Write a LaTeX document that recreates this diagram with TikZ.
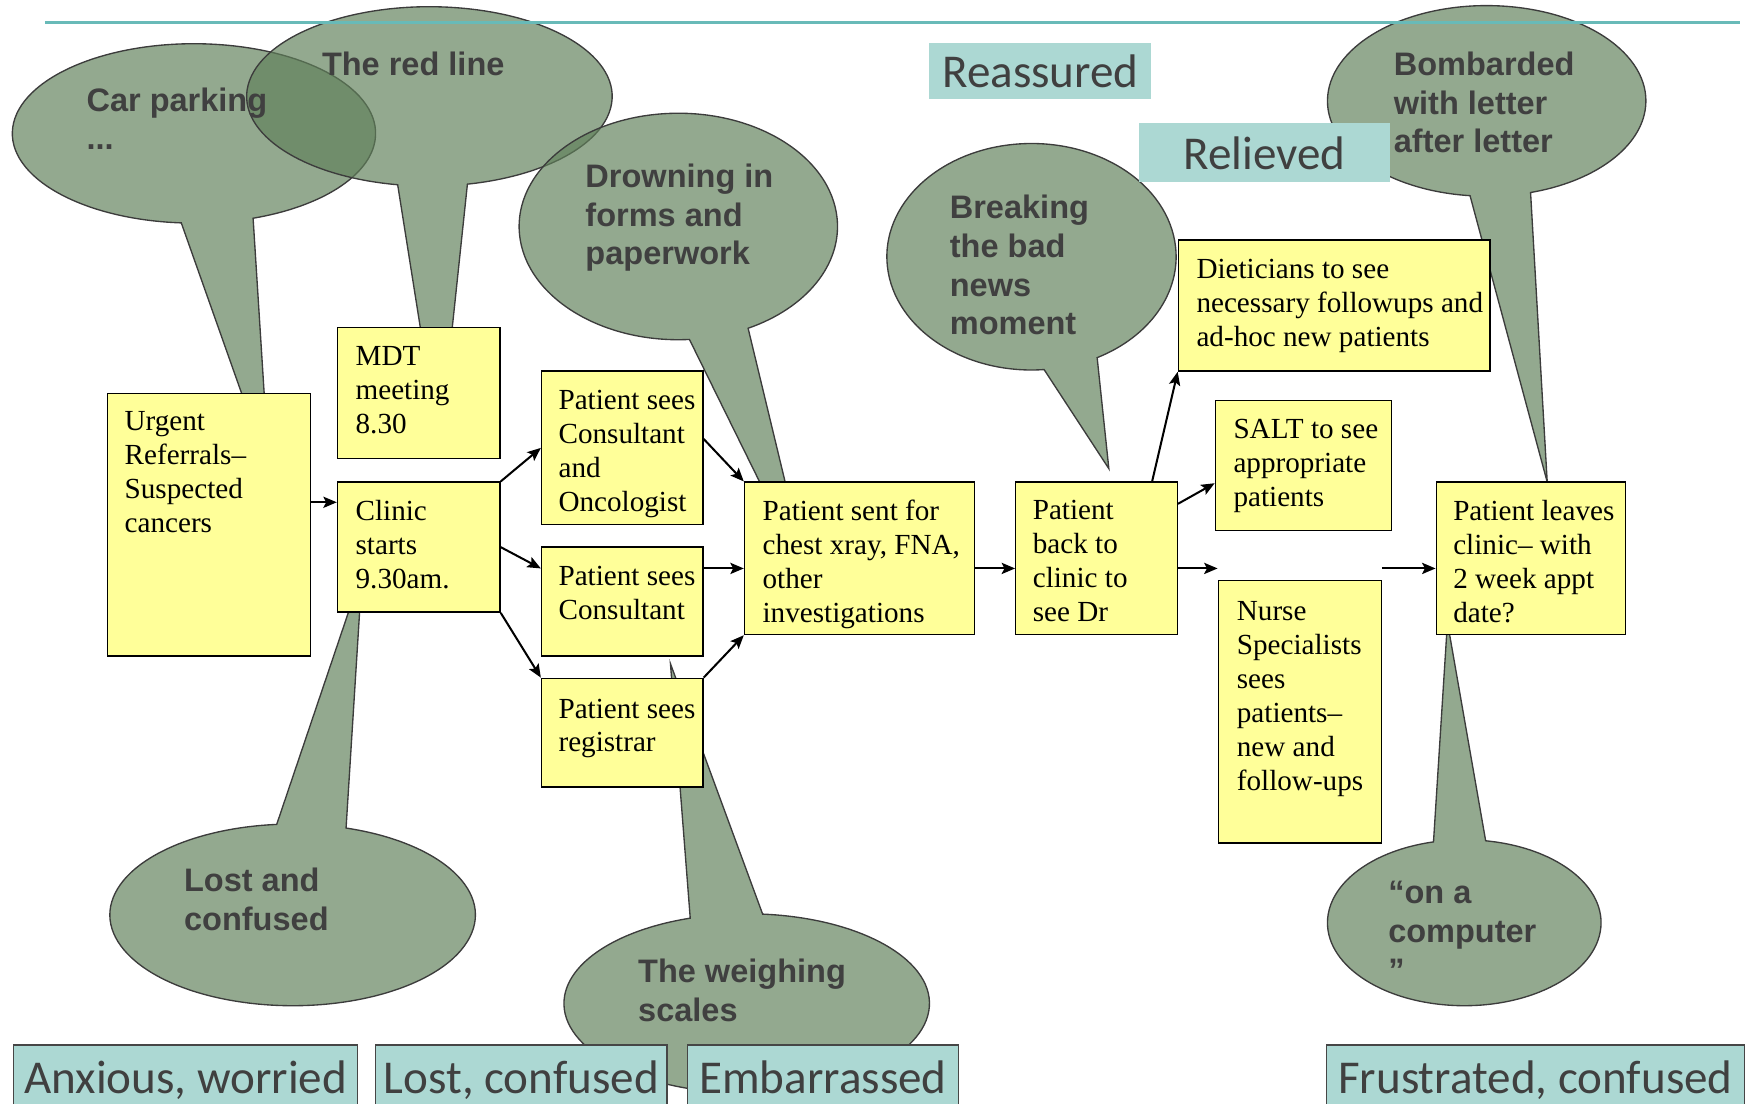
\documentclass[tikz,border=0pt]{standalone}
\usepackage{fontspec}
\setmainfont{Liberation Serif}
\newfontfamily\callfont{Liberation Sans}
\newfontfamily\moodfont{Carlito}
\usetikzlibrary{arrows.meta,calc}

\definecolor{boxyellow}{RGB}{255,255,153}
\definecolor{bubblegreen}{RGB}{96,128,90}
\definecolor{bubbleedge}{RGB}{60,60,60}
\definecolor{moodteal}{RGB}{172,216,211}
\definecolor{moodedge}{RGB}{70,70,70}
\definecolor{ruleteal}{RGB}{104,186,184}
\definecolor{inkgray}{RGB}{64,64,64}

\tikzset{
  stagebox/.style={draw=black, line width=1.2pt, fill=boxyellow, inner sep=0pt},
  stagetext/.style={font=\fontsize{26}{30.3}\selectfont, align=left, anchor=north west, inner sep=0pt},
  bubble/.style={fill=bubblegreen, fill opacity=0.68, draw=bubbleedge, line width=1.2pt},
  bubbletext/.style={font=\callfont\bfseries\fontsize{29}{34.5}\selectfont, text=inkgray, align=left, anchor=north west, inner sep=0pt},
  flow/.style={-{Stealth[length=12pt,width=10pt,inset=2.5pt]}, line width=1.8pt},
  mood/.style={fill=moodteal, font=\moodfont\fontsize{42}{48}\selectfont, text=inkgray, inner sep=0pt, text height=34pt, text depth=4pt},
  moodframed/.style={mood, draw=moodedge, line width=1.3pt},
}

% speech bubble: centre x, centre y, x radius, y radius, tail start angle, tail end angle, tip x, tip y
\newcommand\speechbubble[8]{%
  \filldraw[bubble] (#7,#8) -- ($(#1,#2)+(#6:#3 and #4)$)
    arc[start angle=#6, end angle={#5+360}, x radius=#3, y radius=#4] -- cycle;}

\begin{document}
\begin{tikzpicture}[x=1pt,y=-1pt]
\useasboundingbox (0,0) rectangle (1568,984);
\clip (0,0) rectangle (1568,984);

% feelings along the journey
\speechbubble{173}{119}{162}{80}{71}{94}{240}{420}
\speechbubble{383}{86}{163}{80}{78}{100}{392}{400}
\speechbubble{605}{202}{142}{101}{64}{86}{722}{520}
\speechbubble{920}{229}{129}{101}{63}{85}{989}{418}
\speechbubble{1326}{90}{142}{85}{74}{96}{1380}{430}
\speechbubble{261}{816}{163}{81}{265}{287}{323}{510}
\speechbubble{666}{895}{163}{80}{252}{275}{598}{592}
\speechbubble{1306}{823}{122}{74}{257}{279}{1291}{555}

\node[bubbletext] (carpark) at (77,78) {Car parking\\...};
\node[bubbletext] (redline) at (287,46) {The red line};
\node[bubbletext] (forms) at (522,146) {Drowning in\\forms and\\paperwork};
\node[bubbletext] (badnews) at (847,174) {Breaking\\the bad\\news\\moment};
\node[bubbletext] (letters) at (1243,46) {Bombarded\\with letter\\after letter};
\node[bubbletext] (lost) at (164,774) {Lost and\\confused};
\node[bubbletext] (scales) at (569,855) {The weighing\\scales};
\node[bubbletext] (computer) at (1238,786) {“on a\\computer\\”};

% top rule
\draw[ruleteal, line width=2.5pt] (40,20) -- (1552,20);

% clinic pathway
\node[stagebox, minimum width=181pt, minimum height=234pt] (urgent) at (186.5,468) {};
\node[stagebox, minimum width=145pt, minimum height=117pt] (mdt) at (373.5,350.5) {};
\node[stagebox, minimum width=145pt, minimum height=116pt] (clinic) at (373.5,488) {};
\node[stagebox, minimum width=144pt, minimum height=137pt] (onco) at (555,399.5) {};
\node[stagebox, minimum width=144pt, minimum height=97pt] (consult) at (555,536.5) {};
\node[stagebox, minimum width=144pt, minimum height=97pt] (registrar) at (555,653.5) {};
\node[stagebox, minimum width=205pt, minimum height=136pt] (tests) at (766.5,498) {};
\node[stagebox, minimum width=144pt, minimum height=136pt] (back) at (978,498) {};
\node[stagebox, minimum width=278pt, minimum height=117pt] (diet) at (1190,272.5) {};
\node[stagebox, minimum width=157pt, minimum height=116pt] (salt) at (1162.5,415) {};
\node[stagebox, minimum width=145pt, minimum height=234pt] (nurse) at (1159.5,635) {};
\node[stagebox, minimum width=169pt, minimum height=136pt] (leaves) at (1365.5,498) {};

\node[stagetext] (urgent-t) at (111,367) {Urgent\\Referrals–\\Suspected\\cancers};
\node[stagetext] (mdt-t) at (317,309) {MDT\\meeting\\8.30};
\node[stagetext] (clinic-t) at (317,446) {Clinic\\starts\\9.30am.};
\node[stagetext] (onco-t) at (498,348) {Patient sees\\Consultant\\and\\Oncologist};
\node[stagetext] (consult-t) at (498,505) {Patient sees\\Consultant};
\node[stagetext] (registrar-t) at (498,623) {Patient sees\\registrar};
\node[stagetext] (tests-t) at (680,446) {Patient sent for\\chest xray, FNA,\\other\\investigations};
\node[stagetext] (back-t) at (921,446) {Patient\\back to\\clinic to\\see Dr};
\node[stagetext] (diet-t) at (1067,231) {Dieticians to see\\necessary followups and\\ad-hoc new patients};
\node[stagetext] (salt-t) at (1100,374) {SALT to see\\appropriate\\patients};
\node[stagetext] (nurse-t) at (1103,536) {Nurse\\Specialists\\sees\\patients–\\new and\\follow-ups};
\node[stagetext] (leaves-t) at (1296,446) {Patient leaves\\clinic– with\\2 week appt\\date?};

% connectors
\coordinate (row) at (0,507);
\coordinate (gapend) at (1086,507);
\draw[flow] ([yshift=20pt]urgent.east) -- ([yshift=40pt]clinic.west);
\draw[flow] (clinic.north east) -- (onco.west);
\draw[flow] (clinic.east) -- (consult.west |- row);
\draw[flow] (clinic.south east) -- (registrar.north west);
\draw[flow] ([yshift=8pt]onco.east) -- (tests.north west);
\draw[flow] (consult.east |- row) -- (tests.west |- row);
\draw[flow] (registrar.north east) -- (tests.south west);
\draw[flow] (tests.east |- row) -- (back.west |- row);
\draw[flow] ([xshift=-23pt]back.north east) -- (diet.south west);
\draw[flow] ([yshift=-20pt]back.north east) -- ([yshift=-16pt]salt.west);
\draw[flow] (back.east |- row) -- (gapend);
\draw[flow] (nurse.north east |- row) -- (leaves.west |- row);

% moods
\node[mood, minimum width=198pt, minimum height=50pt] (reassured) at (928,63) {Reassured};
\node[mood, minimum width=224pt, minimum height=52pt] (relieved) at (1128,136) {Relieved};
\node[moodframed, minimum width=307pt, minimum height=56pt] (anxious) at (165.5,960) {Anxious, worried};
\node[moodframed, minimum width=260pt, minimum height=56pt] (lostmood) at (465,960) {Lost, confused};
\node[moodframed, minimum width=242pt, minimum height=56pt] (embarrassed) at (734,960) {Embarrassed};
\node[moodframed, minimum width=373pt, minimum height=56pt] (frustrated) at (1369.5,960) {Frustrated, confused};
\end{tikzpicture}
\end{document}
